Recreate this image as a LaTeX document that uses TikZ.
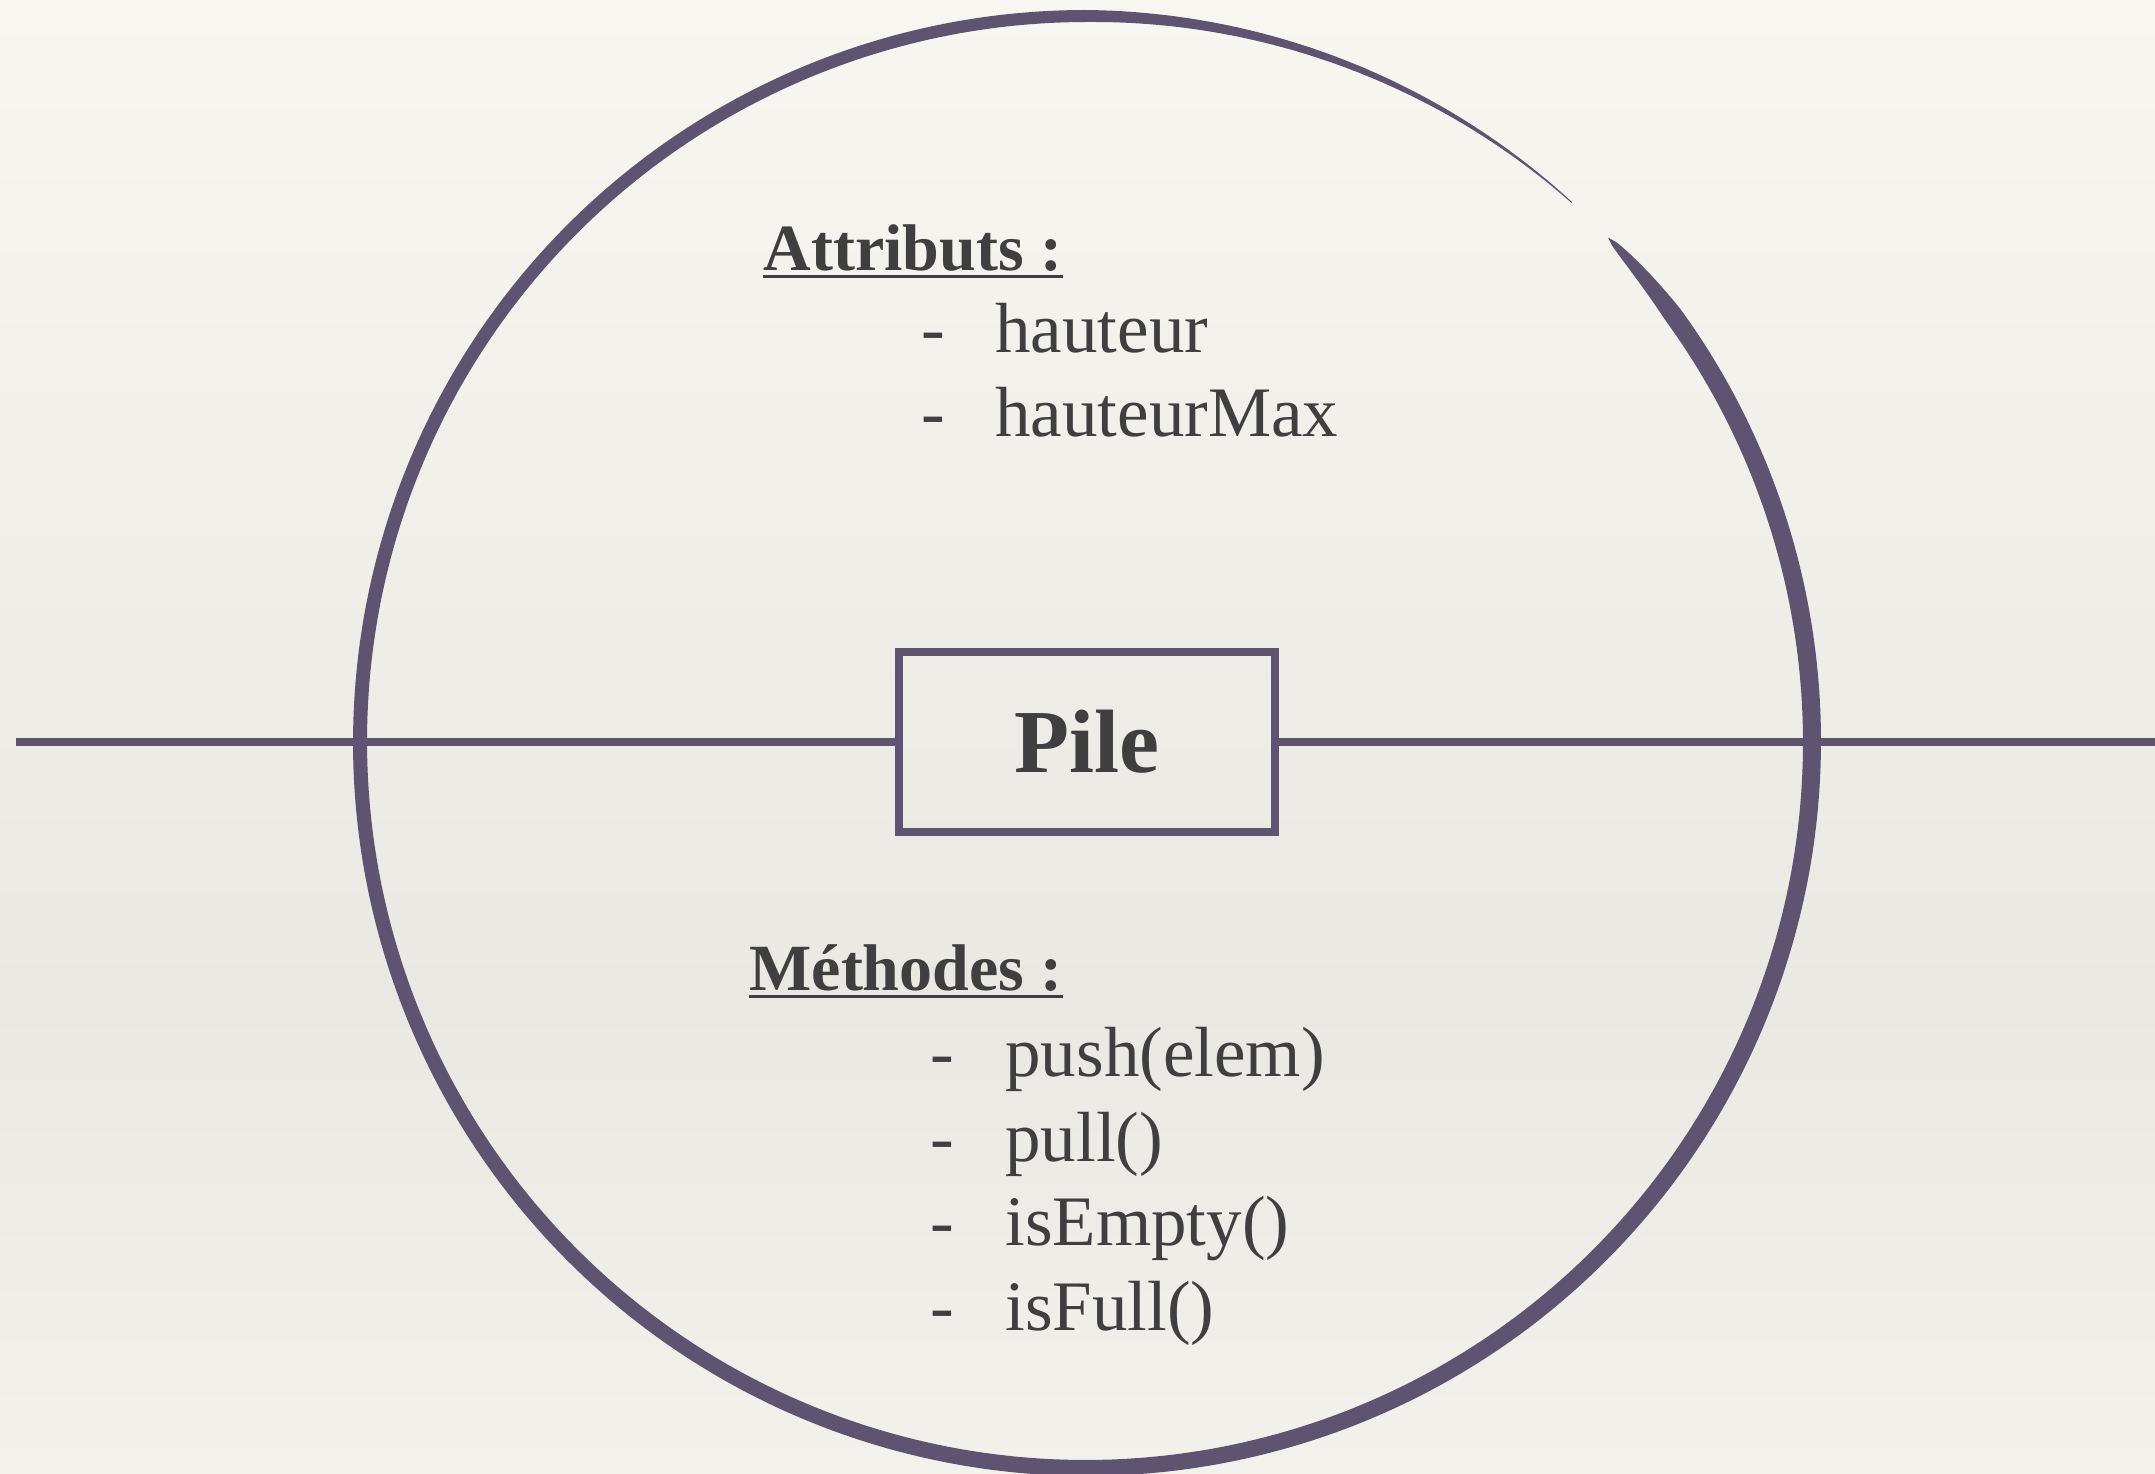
\documentclass[tikz,border=0pt]{standalone}
\usepackage{fontspec}
\setmainfont{Liberation Serif}
\definecolor{ring}{HTML}{5E5370}
\definecolor{txt}{HTML}{3F3F3F}
\definecolor{bgtop}{HTML}{F8F6F0}
\definecolor{bgmid}{HTML}{EAE8E3}
\definecolor{bgbot}{HTML}{F3F1EC}
\tikzset{
  ringline/.style={line width=4pt, draw=ring},
  head/.style={anchor=base west, text=txt, font=\fontsize{33}{40}\selectfont\bfseries, inner sep=0pt},
  item/.style={anchor=base west, text=txt, font=\fontsize{35.5}{42}\selectfont, inner sep=0pt},
  pilebox/.style={draw=ring, line width=4pt, minimum width=188.25pt, minimum height=89.75pt,
    inner sep=0pt, text=txt, font=\fontsize{45}{52}\selectfont\bfseries},
  uline/.style={draw=txt, line width=1.5pt},
}
\begin{document}
\begin{tikzpicture}[x=0.5pt,y=0.5pt,
  declare function={bw(\t)=(\t>36) ? (18.8*sqrt(max(0,(44-\t)/8))) : ((\t>-270) ? (18+\t*6/270) : ((\t>-290) ? (12-5*(-270-\t)/20) : (7-6*(-290-\t)/22)));}]
\useasboundingbox (0,0) rectangle (2155,1473);
% background
\shade[top color=bgtop, bottom color=bgmid] (0,473) rectangle (2155,1473);
\shade[top color=bgmid, bottom color=bgbot] (0,0) rectangle (2155,473.5);
% brush circle
\fill[ring] plot[domain=44:-312, samples=500, variable=\t]
  ({1086+(726+bw(\t)/2)*cos(\t)},{731+(726+bw(\t)/2)*sin(\t)})
  -- plot[domain=-312:44, samples=500, variable=\t]
  ({1086+(726-bw(\t)/2)*cos(\t)},{731+(726-bw(\t)/2)*sin(\t)}) -- cycle;
% central box and line
\node[pilebox] (pile) at (1087,731) {Pile};
\coordinate (lL) at (16,731);
\coordinate (lR) at (2155,731);
\draw[ringline] (lL) -- (pile.west);
\draw[ringline] (pile.east) -- (lR);
% attributes
\node[head] (attr) at (763,1202) {Attributs :};
\draw[uline] ([yshift=-3pt]attr.base west) -- ([yshift=-3pt]attr.base east);
\node[item] (d1) at (921,1120) {-};
\node[item] (a1) at (995,1120) {hauteur};
\node[item] (d2) at (921,1036) {-};
\node[item] (a2) at (995,1036) {hauteurMax};
% methods
\node[head] (meth) at (749,483) {Méthodes :};
\draw[uline] ([yshift=-3pt]meth.base west) -- ([yshift=-3pt]meth.base east);
\node[item] (d3) at (930,397) {-};
\node[item] (m1) at (1005,397) {push(elem)};
\node[item] (d4) at (930,312) {-};
\node[item] (m2) at (1005,312) {pull()};
\node[item] (d5) at (930,228) {-};
\node[item] (m3) at (1005,228) {isEmpty()};
\node[item] (d6) at (930,143) {-};
\node[item] (m4) at (1005,143) {isFull()};
\end{tikzpicture}
\end{document}
